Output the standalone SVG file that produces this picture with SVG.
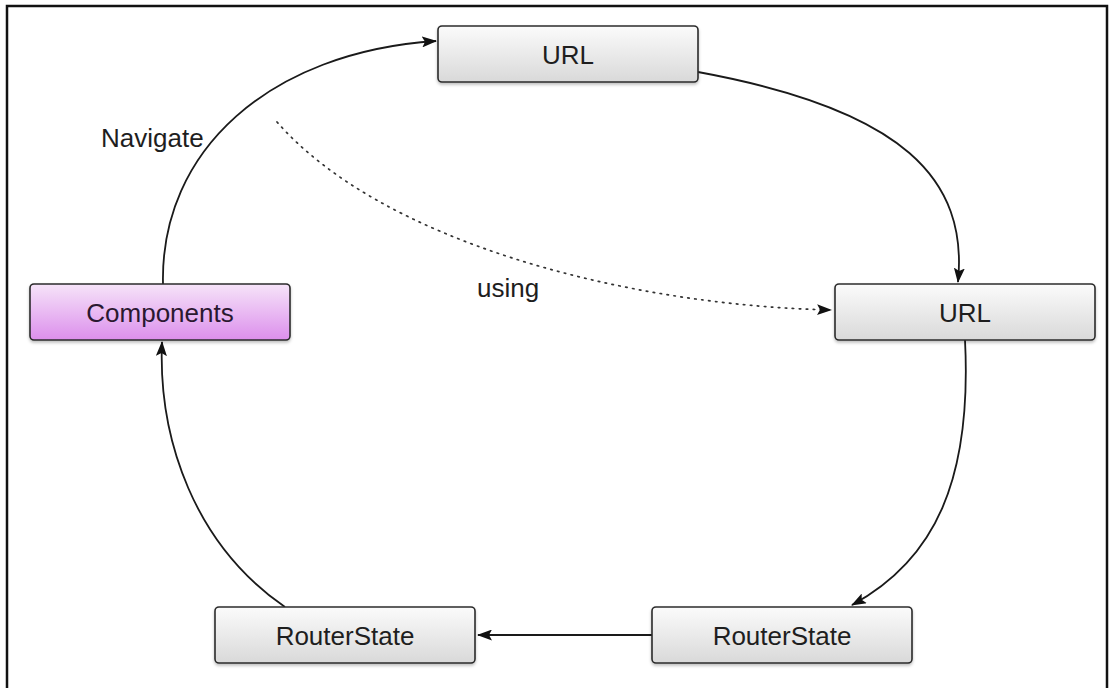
<svg xmlns="http://www.w3.org/2000/svg" width="1113" height="688" viewBox="0 0 1113 688">
  <style>
    .box { stroke: #2b2b2b; stroke-width: 1.6; filter: url(#shadow); }
    .gray { fill: url(#grayGrad); }
    .purple { fill: url(#purpleGrad); }
    .lbl { font-family: "Liberation Sans", Arial, sans-serif; font-size: 26px; fill: #1e1e1e; text-anchor: middle; }
    .free { font-family: "Liberation Sans", Arial, sans-serif; font-size: 26px; fill: #1e1e1e; }
    .edge { fill: none; stroke: #1a1a1a; stroke-width: 1.8; marker-end: url(#arrow); }
    .dot { fill: none; stroke: #333; stroke-width: 1.7; stroke-dasharray: 1.5 5.5; stroke-linecap: round; marker-end: url(#arrow); }
  </style>
  <defs>
    <linearGradient id="grayGrad" x1="0" y1="0" x2="0" y2="1">
      <stop offset="0" stop-color="#fbfbfb"/>
      <stop offset="1" stop-color="#d9d9d9"/>
    </linearGradient>
    <linearGradient id="purpleGrad" x1="0" y1="0" x2="0" y2="1">
      <stop offset="0" stop-color="#f6e4f9"/>
      <stop offset="1" stop-color="#dc8fec"/>
    </linearGradient>
    <filter id="shadow" x="-10%" y="-20%" width="120%" height="150%">
      <feDropShadow dx="0" dy="2" stdDeviation="1.5" flood-color="#000" flood-opacity="0.25"/>
    </filter>
    <marker id="arrow" viewBox="0 0 15 11" refX="14" refY="5.5" markerWidth="15" markerHeight="11" markerUnits="userSpaceOnUse" orient="auto">
      <path d="M0,0 L15,5.5 L0,11 L3,5.5 Z" fill="#111"/>
    </marker>
  </defs>

  <!-- frame -->
  <path d="M7,688 L7,6 L1107,6 L1107,688" fill="none" stroke="#111" stroke-width="2.5"/>

  <g id="connectors">
    <path class="edge" d="M163,284 C160,150 270,52 436,41"/>
    <path class="edge" d="M698,72 C905,110 968,180 958,282"/>
    <path class="edge" d="M965,340 C972,480 935,560 852,605"/>
    <path class="edge" d="M652,635 L478,635"/>
    <path class="edge" d="M285,607 C195,545 158,440 162,342"/>
    <path class="dot" d="M277,122 C380,240 620,305 831,310"/>
  </g>

  <g id="node-url-top">
    <rect class="box gray" x="438" y="26" width="260" height="56" rx="4"/>
    <text class="lbl" x="568" y="63.5">URL</text>
  </g>
  <g id="node-components">
    <rect class="box purple" x="30" y="284" width="260" height="56" rx="4"/>
    <text class="lbl" x="160" y="321.5" style="fill:#2a1830">Components</text>
  </g>
  <g id="node-url-right">
    <rect class="box gray" x="835" y="284" width="260" height="56" rx="4"/>
    <text class="lbl" x="965" y="321.5">URL</text>
  </g>
  <g id="node-routerstate-left">
    <rect class="box gray" x="215" y="607" width="260" height="56" rx="4"/>
    <text class="lbl" x="345" y="644.5">RouterState</text>
  </g>
  <g id="node-routerstate-right">
    <rect class="box gray" x="652" y="607" width="260" height="56" rx="4"/>
    <text class="lbl" x="782" y="644.5">RouterState</text>
  </g>

  <g id="labels">
    <text class="free" x="101" y="147">Navigate</text>
    <text class="free" x="477" y="297">using</text>
  </g>
</svg>
